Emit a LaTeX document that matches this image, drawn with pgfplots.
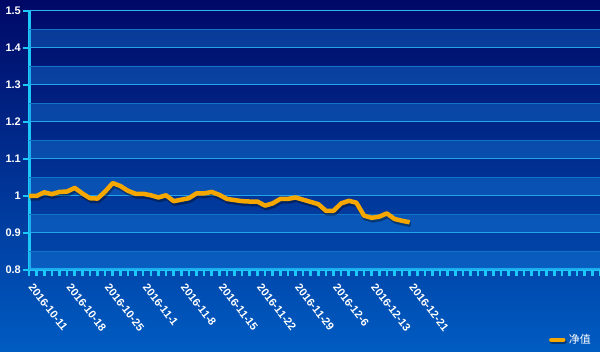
\documentclass[border=0pt]{standalone}
\usepackage{pgfplots}
\usepackage{pgfplotstable}
\pgfplotsset{compat=1.18}
\usepackage{fontspec}
\setmainfont{Liberation Sans}
\newfontfamily\cjk{Noto Sans CJK SC}
\definecolor{bgtop}{HTML}{000866}
\definecolor{bgbot}{HTML}{005CC2}
\definecolor{axc}{HTML}{1CC8F8}
\definecolor{gridc}{HTML}{2AB8F0}
\definecolor{bandc}{HTML}{1A82E0}
\definecolor{bandl}{HTML}{1274C8}
\definecolor{linec}{HTML}{F5A700}

\pgfplotstableread{
i v
0 1.000
1 1.000
2 1.010
3 1.005
4 1.011
5 1.012
6 1.022
7 1.007
8 0.994
9 0.993
10 1.012
11 1.035
12 1.027
13 1.014
14 1.006
15 1.006
16 1.002
17 0.996
18 1.002
19 0.986
20 0.990
21 0.994
22 1.007
23 1.007
24 1.011
25 1.003
26 0.992
27 0.989
28 0.986
29 0.985
30 0.985
31 0.974
32 0.980
33 0.992
34 0.992
35 0.996
36 0.990
37 0.984
38 0.978
39 0.960
40 0.960
41 0.980
42 0.987
43 0.982
44 0.947
45 0.941
46 0.944
47 0.953
48 0.938
49 0.933
50 0.929
}\nav

\begin{document}
\begin{tikzpicture}[x=1pt,y=1pt]
\shade[top color=bgtop, bottom color=bgbot] (0,0) rectangle (600,352);
\begin{axis}[
  at={(29pt,82pt)}, anchor=south west,
  scale only axis, width=571pt, height=259pt,
  xmin=0, xmax=75, ymin=0.8, ymax=1.5,
  axis x line*=bottom, axis y line*=left,
  axis line style={line width=3pt, color=axc, -},
  xtick={0,5,...,50},
  xticklabels={2016-10-11,2016-10-18,2016-10-25,2016-11-1,2016-11-8,2016-11-15,2016-11-22,2016-11-29,2016-12-6,2016-12-13,2016-12-21},
  minor xtick={0,1,...,75},
  ytick={0.8,0.9,...,1.5},
  tick align=outside,
  major tick length=6pt, minor tick length=6pt,
  x tick style={line width=2.6pt, color=axc},
  minor x tick style={line width=2.6pt, color=axc},
  y tick style={line width=2pt, color=axc},
  ymajorgrids, major grid style={line width=1pt, color=gridc},
  /pgf/number format/assume math mode=true,
  ticklabel style={font=\fontsize{11}{13}\selectfont\bfseries, text=white},
  x tick label style={rotate=-52, anchor=north west, inner sep=1pt, xshift=7.5pt, yshift=1pt},
  y tick label style={inner sep=2pt},
  legend style={at={(0.9895,-0.27)}, anchor=east, draw=none, fill=none,
    text=white, font=\cjk\fontsize{11}{13}\selectfont, inner sep=1pt},
  legend image code/.code={
    \draw[line width=5pt, black, opacity=0.35, line cap=round] (1pt,-2pt) -- (13pt,-2pt);
    \draw[line width=4.5pt, linec, line cap=round] (0pt,0pt) -- (12pt,0pt);
  },
]
\fill[bandc, opacity=0.38] (axis cs:0,0.8) rectangle (axis cs:75,0.85);
\fill[bandc, opacity=0.38] (axis cs:0,0.9) rectangle (axis cs:75,0.95);
\fill[bandc, opacity=0.38] (axis cs:0,1.0) rectangle (axis cs:75,1.05);
\fill[bandc, opacity=0.38] (axis cs:0,1.1) rectangle (axis cs:75,1.15);
\fill[bandc, opacity=0.38] (axis cs:0,1.2) rectangle (axis cs:75,1.25);
\fill[bandc, opacity=0.38] (axis cs:0,1.3) rectangle (axis cs:75,1.35);
\fill[bandc, opacity=0.38] (axis cs:0,1.4) rectangle (axis cs:75,1.45);
\draw[bandl, line width=1.8pt] (axis cs:0,0.85) -- (axis cs:75,0.85);
\draw[bandl, line width=1.8pt] (axis cs:0,0.95) -- (axis cs:75,0.95);
\draw[bandl, line width=1.8pt] (axis cs:0,1.05) -- (axis cs:75,1.05);
\draw[bandl, line width=1.8pt] (axis cs:0,1.15) -- (axis cs:75,1.15);
\draw[bandl, line width=1.8pt] (axis cs:0,1.25) -- (axis cs:75,1.25);
\draw[bandl, line width=1.8pt] (axis cs:0,1.35) -- (axis cs:75,1.35);
\draw[bandl, line width=1.8pt] (axis cs:0,1.45) -- (axis cs:75,1.45);
\addplot[black, opacity=0.35, line width=4.5pt, line join=round, forget plot, xshift=1pt, yshift=-2.5pt] table[x=i, y=v] {\nav};
\addplot[linec, line width=4.5pt, line join=round] table[x=i, y=v] {\nav};
\addlegendentry{净值}
\end{axis}
\pgfresetboundingbox
\useasboundingbox (0,0) rectangle (600,352);
\end{tikzpicture}
\end{document}
